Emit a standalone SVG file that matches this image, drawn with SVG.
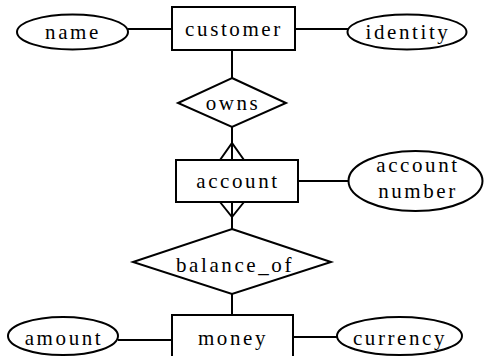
<svg xmlns="http://www.w3.org/2000/svg" width="485" height="356" viewBox="0 0 485 356">
<style>
.s{fill:#fff;stroke:#000;stroke-width:2}
.l{stroke:#000;stroke-width:2;fill:none}
.t{font-family:'Liberation Serif','Times New Roman','DejaVu Serif',serif;font-size:21px;letter-spacing:2.6px;text-anchor:middle;fill:#000}
</style>
<rect width="485" height="356" fill="#fff"/>
<g id="connectors">
<line class="l" x1="128" y1="29" x2="172" y2="29"/>
<line class="l" x1="295" y1="29" x2="348" y2="29"/>
<line class="l" x1="232" y1="50" x2="232" y2="78"/>
<line class="l" x1="232" y1="127" x2="232" y2="160"/>
<polyline class="l" points="220,160 232,143 244,160"/>
<line class="l" x1="298" y1="181" x2="348" y2="181"/>
<line class="l" x1="232" y1="202" x2="232" y2="229"/>
<polyline class="l" points="220,202 232,217 244,202"/>
<line class="l" x1="232" y1="294" x2="232" y2="315"/>
<line class="l" x1="118" y1="340" x2="172" y2="340"/>
<line class="l" x1="293" y1="337" x2="337" y2="337"/>
</g>
<g id="customer"><rect class="s" x="172" y="7" width="123" height="43"/><text class="t" x="234" y="36">customer</text></g>
<g id="name"><ellipse class="s" cx="72.5" cy="32" rx="55.5" ry="17.5"/><text class="t" x="73" y="39">name</text></g>
<g id="identity"><ellipse class="s" cx="407" cy="32" rx="59.5" ry="17.5"/><text class="t" x="408" y="39">identity</text></g>
<g id="owns"><polygon class="s" points="232,78 286,103 232,127 178,103"/><text class="t" x="233" y="110">owns</text></g>
<g id="account"><rect class="s" x="176" y="160" width="122" height="42"/><text class="t" x="238" y="188">account</text></g>
<g id="account_number"><ellipse class="s" cx="415.5" cy="181" rx="67" ry="30"/><text class="t" x="418" y="172">account</text><text class="t" x="418" y="198">number</text></g>
<g id="balance_of"><polygon class="s" points="232,229 331,262 232,294 133,262"/><text class="t" x="235" y="272">balance_of</text></g>
<g id="money"><rect class="s" x="172" y="315" width="121" height="44"/><text class="t" x="233" y="345">money</text></g>
<g id="amount"><ellipse class="s" cx="63" cy="336" rx="55" ry="19"/><text class="t" x="64" y="345">amount</text></g>
<g id="currency"><ellipse class="s" cx="399.5" cy="336" rx="62.5" ry="19"/><text class="t" x="400" y="345">currency</text></g>
</svg>
